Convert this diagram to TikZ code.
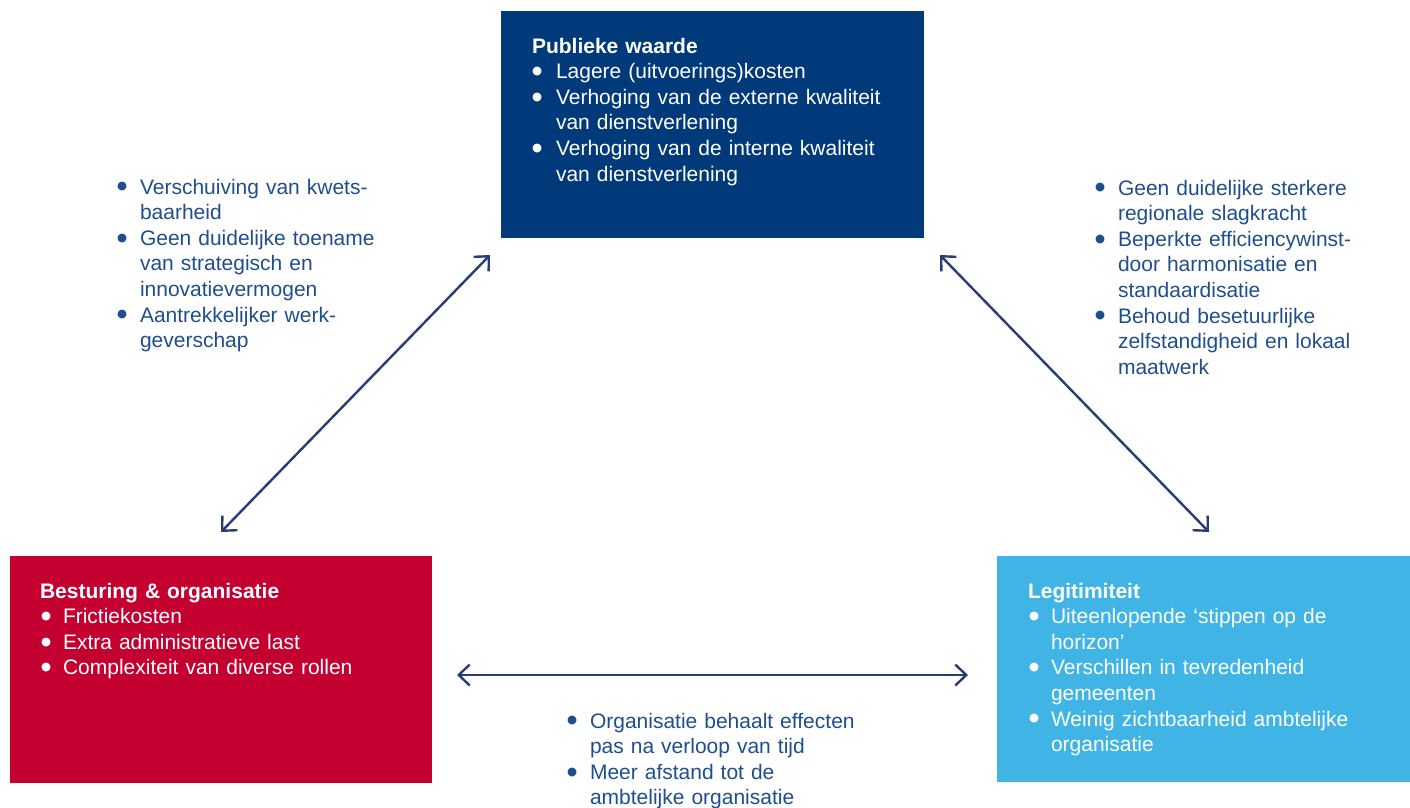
\documentclass[tikz,border=0pt]{standalone}
\usepackage{fontspec}
\setmainfont{Liberation Sans}
\newfontfamily\bulfont{DejaVu Sans}
\usetikzlibrary{arrows.meta}
\definecolor{pwblue}{HTML}{003A7B}
\definecolor{bored}{HTML}{C40031}
\definecolor{legblue}{HTML}{41B4E6}
\definecolor{txtblue}{HTML}{1F4E8F}
\definecolor{arrblue}{HTML}{263E74}
\newlength\myind
\newlength\mybo
\newcommand\mybul{\raisebox{4.2pt}{\fontsize{11.5}{0}\bulfont ●}}
\newcommand\bitem[1]{\hangindent=\myind\hangafter=1\noindent\makebox[\myind][l]{\hspace{\mybo}\mybul}#1\par}
\newcommand\btitle[1]{\noindent\textbf{#1}\par}
\begin{document}
\begin{tikzpicture}[x=1pt,y=-1pt,
  boxshape/.style={anchor=north west, inner sep=0pt, outer sep=0pt, draw=none},
  txt/.style={anchor=base west, inner sep=0pt, outer sep=0pt, text width=400pt,
    font=\fontsize{21}{25.6}\selectfont},
  boxtxt/.style={txt, text=white},
  freetxt/.style={txt, text=txtblue},
  conn/.style={draw=arrblue, line width=2.4pt,
    {Straight Barb[length=11pt,width=21pt]}-{Straight Barb[length=11pt,width=21pt]}}]
\useasboundingbox (0,0) rectangle (1410,807);
% boxes
\node[boxshape, fill=pwblue, minimum width=423pt, minimum height=227pt] (pw) at (501,11) {};
\node[boxshape, fill=bored, minimum width=422pt, minimum height=227pt] (bo) at (10,556) {};
\node[boxshape, fill=legblue, minimum width=413pt, minimum height=226pt] (lg) at (997,556) {};
% box texts
\node[boxtxt] (pwt) at (532,53) {\setlength\myind{24pt}\setlength\mybo{0pt}\parskip=0pt\raggedright
\btitle{Publieke waarde}
\bitem{Lagere (uitvoerings)kosten}
\bitem{Verhoging van de externe kwaliteit\newline van dienstverlening}
\bitem{Verhoging van de interne kwaliteit\newline van dienstverlening}};
\node[boxtxt] (bot) at (40,598) {\setlength\myind{23pt}\setlength\mybo{1pt}\parskip=0pt\raggedright
\btitle{Besturing \& organisatie}
\bitem{Frictiekosten}
\bitem{Extra administratieve last}
\bitem{Complexiteit van diverse rollen}};
\node[boxtxt] (lgt) at (1028,598) {\setlength\myind{23pt}\setlength\mybo{1pt}\parskip=0pt\raggedright
\btitle{Legitimiteit}
\bitem{Uiteenlopende ‘stippen op de\newline horizon’}
\bitem{Verschillen in tevredenheid\newline gemeenten}
\bitem{Weinig zichtbaarheid ambtelijke\newline organisatie}};
% free texts
\node[freetxt] (lt) at (118,194) {\setlength\myind{22pt}\setlength\mybo{-1pt}\parskip=0pt\raggedright
\bitem{Verschuiving van kwets-\newline baarheid}
\bitem{Geen duidelijke toename\newline van strategisch en\newline innovatievermogen}
\bitem{Aantrekkelijker werk-\newline geverschap}};
\node[freetxt] (rt) at (1096,195) {\setlength\myind{22pt}\setlength\mybo{-1pt}\parskip=0pt\raggedright
\bitem{Geen duidelijke sterkere\newline regionale slagkracht}
\bitem{Beperkte efficiencywinst-\newline door harmonisatie en\newline standaardisatie}
\bitem{Behoud besetuurlijke\newline zelfstandigheid en lokaal\newline maatwerk}};
\node[freetxt] (bt) at (568,728) {\setlength\myind{22pt}\setlength\mybo{-1pt}\parskip=0pt\raggedright
\bitem{Organisatie behaalt effecten\newline pas na verloop van tijd}
\bitem{Meer afstand tot de\newline ambtelijke organisatie}};
% connector end points
\coordinate (dlA) at (221,532);
\coordinate (dlB) at (490,255);
\coordinate (drA) at (940,255);
\coordinate (drB) at (1209,532);
\coordinate (hL) at (457,675);
\coordinate (hR) at (968,675);
\draw[conn] (dlA) -- (dlB);
\draw[conn] (drA) -- (drB);
\draw[conn] (hL) -- (hR);
\end{tikzpicture}
\end{document}
